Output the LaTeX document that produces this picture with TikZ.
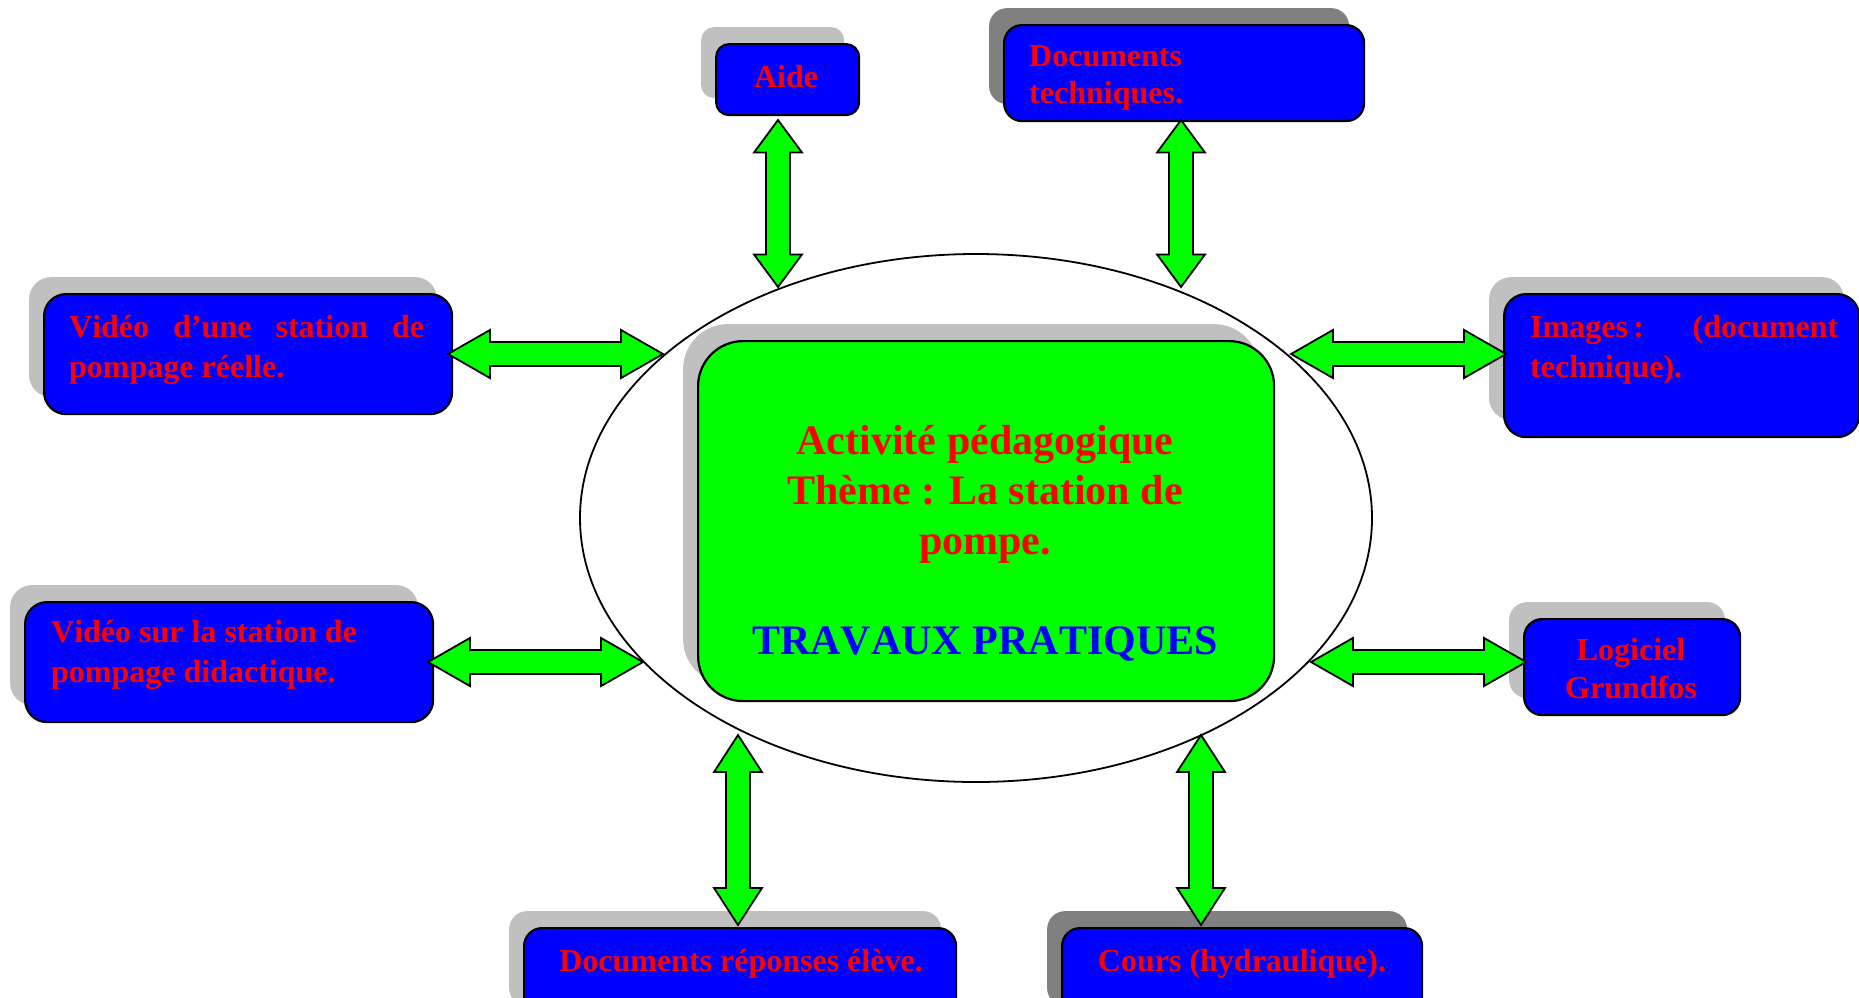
\documentclass[tikz,border=0pt]{standalone}
\usepackage{fontspec}
\setmainfont[Kerning=Off]{Liberation Serif}
\usetikzlibrary{shadows,calc,shapes.geometric}
\hyphenpenalty=10000
\exhyphenpenalty=10000

\definecolor{boxblue}{RGB}{0,0,255}
\definecolor{txtred}{RGB}{255,0,0}
\definecolor{hubgreen}{RGB}{0,255,0}
\definecolor{shlight}{RGB}{192,192,192}
\definecolor{shdark}{RGB}{128,128,128}

\tikzset{
  card/.style={draw=black, line width=2.2pt, fill=boxblue, rounded corners=18pt,
    inner sep=0pt, anchor=north west},
  lightshadow/.style={drop shadow={shadow xshift=-15pt, shadow yshift=17pt, fill=shlight, opacity=1}},
  darkshadow/.style={drop shadow={shadow xshift=-15pt, shadow yshift=17pt, fill=shdark, opacity=1}},
  cardtext/.style={text=txtred, font=\bfseries\fontsize{32}{40}\selectfont, inner sep=0pt},
  hubtext/.style={text=txtred, font=\bfseries\fontsize{42}{50}\selectfont, inner sep=0pt},
  dblarr/.style={draw=black, line width=1.8pt, fill=hubgreen, line join=miter},
}

% double-headed block arrow between two named points
\newcommand{\dblarrow}[2]{%
  \draw[dblarr] let \p1=(#1), \p2=(#2),
      \n1={atan2(\y2-\y1,\x2-\x1)}, \n2={veclen(\x2-\x1,\y2-\y1)}, \n3={0.195*\n2}
    in [shift={(\p1)}, rotate=\n1]
    (0,0) -- (\n3,24) -- (\n3,12) -- (\n2-\n3,12) -- (\n2-\n3,24) -- (\n2,0)
    -- (\n2-\n3,-24) -- (\n2-\n3,-12) -- (\n3,-12) -- (\n3,-24) -- cycle;}

\begin{document}
\begin{tikzpicture}[x=1pt, y=-1pt]
\useasboundingbox (0,0) rectangle (1859,997);

% central ellipse and hub
\node[ellipse, draw=black, line width=1.8pt, fill=white, inner sep=0pt,
      minimum width=792pt, minimum height=528pt] (ring) at (976,518) {};
\node[card, fill=hubgreen, rounded corners=45pt, lightshadow,
      minimum width=576pt, minimum height=360pt] (hub) at (697,340) {};
\node[hubtext, align=center] (hubtxt) at (985,543)
  {Activité pédagogique\\Thème : La station de\\pompe.\\[50pt]\textcolor{boxblue}{TRAVAUX PRATIQUES}};

% surrounding resource cards
\node[card, lightshadow, rounded corners=13pt, minimum width=143pt, minimum height=71pt] (aide) at (715,43) {};
\node[cardtext] (aidetxt) at (786,77) {Aide};

\node[card, darkshadow, minimum width=360pt, minimum height=96pt] (doctech) at (1003,24) {};
\node[cardtext, align=left, anchor=west, font=\bfseries\fontsize{32}{37}\selectfont] (doctechtxt) at (1029,78)
  {Documents\\techniques.};

\node[card, lightshadow, rounded corners=22pt, minimum width=408pt, minimum height=120pt] (vid1) at (43,293) {};
\node[cardtext, text width=355pt, align=justify, anchor=west] (vid1txt) at (69,350)
  {Vidéo d’une station de pompage réelle.};

\node[card, lightshadow, rounded corners=22pt, minimum width=408pt, minimum height=120pt] (vid2) at (24,601) {};
\node[cardtext, align=left, anchor=west] (vid2txt) at (51,655)
  {Vidéo sur la station de\\pompage didactique.};

\node[card, lightshadow, rounded corners=22pt, minimum width=355pt, minimum height=143pt] (img) at (1503,293) {};
\node[cardtext, text width=306pt, align=justify, anchor=west] (imgtxt) at (1530,350)
  {Images : \hspace{30pt} (document technique).};

\node[card, lightshadow, minimum width=216pt, minimum height=96pt] (logi) at (1523,618) {};
\node[cardtext, align=center, font=\bfseries\fontsize{32}{38}\selectfont] (logitxt) at (1631,669)
  {Logiciel\\Grundfos};

\node[card, lightshadow, minimum width=432pt, minimum height=95pt] (docrep) at (523,927) {};
\node[cardtext] (docreptxt) at (741,963.5) {Documents réponses élève.};

\node[card, darkshadow, minimum width=360pt, minimum height=95pt] (cours) at (1061,927) {};
\node[cardtext] (courstxt) at (1242,963.5) {Cours (hydraulique).};

% arrow end points: card side and ellipse side
\coordinate (aideA) at (778,120);   \coordinate (aideB) at (778,287);
\coordinate (techA) at (1181,120);  \coordinate (techB) at (1181,287);
\coordinate (vid1A) at (448,354);   \coordinate (vid1B) at (663,354);
\coordinate (vid2A) at (428,662);   \coordinate (vid2B) at (643,662);
\coordinate (imgA) at (1506,354);   \coordinate (imgB) at (1291,354);
\coordinate (logiA) at (1526,662);  \coordinate (logiB) at (1311,662);
\coordinate (repA) at (738,925);    \coordinate (repB) at (738,735);
\coordinate (coursA) at (1201,925); \coordinate (coursB) at (1201,735);

\dblarrow{aideA}{aideB}
\dblarrow{techA}{techB}
\dblarrow{vid1A}{vid1B}
\dblarrow{vid2A}{vid2B}
\dblarrow{imgA}{imgB}
\dblarrow{logiA}{logiB}
\dblarrow{repA}{repB}
\dblarrow{coursA}{coursB}
\end{tikzpicture}
\end{document}
